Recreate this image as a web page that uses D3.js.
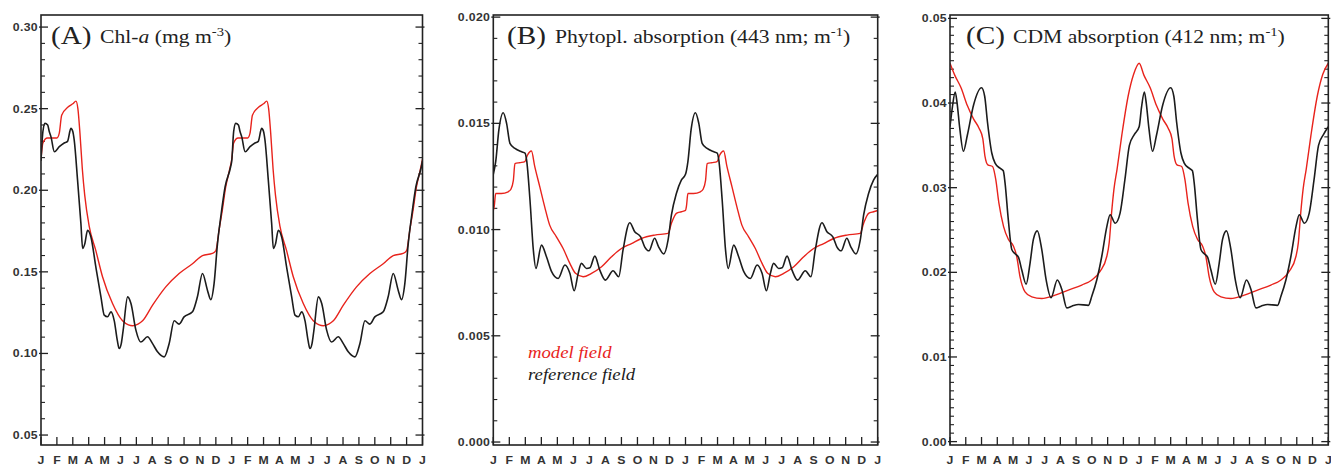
<!DOCTYPE html>
<html>
<head>
<meta charset="utf-8">
<script src="https://cdn.jsdelivr.net/npm/d3@7"></script>
<style>
  body { margin: 0; background: #fff; }
  svg { display: block; }
</style>
</head>
<body>
<svg id="chart" width="1331" height="464"></svg>
<script>
// Month initials along the two-year time axis
const monthLabels = ["J","F","M","A","M","J","J","A","S","O","N","D",
                     "J","F","M","A","M","J","J","A","S","O","N","D","J"];

// One climatological year per series: [month (0-12), value]; plotted for two years
const chlModel = [
  [0, 0.219], [0.12, 0.229], [0.4, 0.232], [1.0, 0.232], [1.15, 0.235], [1.3, 0.246],
  [1.7, 0.251], [2.0, 0.253], [2.2, 0.2546], [2.32, 0.250], [2.45, 0.235], [2.6, 0.213],
  [2.75, 0.197], [3.03, 0.178], [3.45, 0.163], [3.87, 0.147], [4.5, 0.1306], [5.13, 0.120],
  [5.5, 0.1175], [5.76, 0.117], [6.1, 0.118], [6.39, 0.120], [7.02, 0.1296], [7.85, 0.1408],
  [8.69, 0.149], [9.53, 0.155], [10.16, 0.160], [10.78, 0.1613], [11.0, 0.163], [11.2, 0.1755],
  [11.41, 0.188], [11.62, 0.202], [11.85, 0.212], [12, 0.219]
];
const chlReference = [
  [0, 0.218], [0.12, 0.236], [0.25, 0.241], [0.42, 0.240], [0.52, 0.236], [0.63, 0.2327],
  [0.84, 0.2236], [1.15, 0.2267], [1.46, 0.229], [1.67, 0.230], [1.88, 0.2379], [2.0, 0.236],
  [2.09, 0.2307], [2.3, 0.2062], [2.51, 0.1797], [2.62, 0.1643], [2.75, 0.167], [2.93, 0.1755],
  [3.14, 0.1714], [3.45, 0.153], [3.77, 0.1347], [3.98, 0.1235], [4.19, 0.1225], [4.4, 0.1255],
  [4.61, 0.120], [4.8, 0.108], [4.92, 0.103], [5.05, 0.106], [5.17, 0.1143], [5.45, 0.1347],
  [5.66, 0.1306], [5.97, 0.1143], [6.28, 0.107], [6.7, 0.1102], [7.02, 0.106], [7.33, 0.101],
  [7.75, 0.0979], [8.06, 0.106], [8.38, 0.120], [8.69, 0.118], [9.0, 0.1224], [9.53, 0.1255],
  [9.84, 0.1347], [10.16, 0.149], [10.47, 0.1388], [10.68, 0.133], [10.89, 0.143], [11.1, 0.167],
  [11.31, 0.1837], [11.58, 0.202], [11.93, 0.2144], [12, 0.218]
];

const aphModel = [
  [0, 0.0109], [0.06, 0.0111], [0.15, 0.0117], [0.5, 0.0117], [0.93, 0.01178], [1.1, 0.0119],
  [1.25, 0.0123], [1.35, 0.0131], [1.66, 0.01315], [1.97, 0.0132], [2.13, 0.0135], [2.38, 0.0137],
  [2.59, 0.01296], [2.9, 0.01202], [3.21, 0.01107], [3.52, 0.01021], [3.94, 0.00966], [4.36, 0.00911],
  [4.78, 0.00841], [5.13, 0.00794], [5.61, 0.00778], [6.13, 0.00794], [6.76, 0.00825], [7.38, 0.00872],
  [8.0, 0.00911], [8.63, 0.00934], [9.25, 0.00958], [10.08, 0.00974], [10.91, 0.00982], [11.12, 0.01029],
  [11.43, 0.01076], [11.74, 0.01084], [12, 0.0109]
];
const aphReference = [
  [0, 0.0126], [0.15, 0.0132], [0.35, 0.0147], [0.62, 0.0155], [0.83, 0.0150], [1.04, 0.01406],
  [1.35, 0.01382], [1.77, 0.01366], [1.98, 0.0136], [2.08, 0.01327], [2.29, 0.01139], [2.5, 0.00904],
  [2.66, 0.00817], [3.01, 0.00927], [3.32, 0.00872], [3.64, 0.00802], [4.05, 0.0077], [4.47, 0.00833],
  [4.78, 0.00794], [5.05, 0.00712], [5.3, 0.00794], [5.5, 0.00841], [5.82, 0.00817], [6.03, 0.0082],
  [6.34, 0.00875], [6.65, 0.00809], [7.0, 0.00762], [7.48, 0.00806], [7.83, 0.00778], [8.1, 0.00904],
  [8.52, 0.01032], [8.83, 0.0099], [9.2, 0.00966], [9.45, 0.00919], [9.72, 0.009], [10.07, 0.00959],
  [10.32, 0.00919], [10.64, 0.00885], [10.91, 0.0095], [11.12, 0.01068], [11.43, 0.0117],
  [11.74, 0.01233], [12, 0.0126]
];

const cdmModel = [
  [0, 0.0447], [0.3, 0.0433], [0.7, 0.0418], [1.1, 0.0397], [1.5, 0.0381], [1.85, 0.037],
  [2.08, 0.0358], [2.22, 0.0337], [2.4, 0.0327], [2.7, 0.0325], [2.9, 0.031], [3.1, 0.0282],
  [3.4, 0.0254], [3.7, 0.0239], [4.02, 0.0231], [4.23, 0.0219], [4.44, 0.0195], [4.76, 0.0177],
  [5.19, 0.0171], [5.82, 0.0169], [6.67, 0.0173], [7.51, 0.0179], [8.36, 0.0185], [9.0, 0.0191],
  [9.52, 0.0201], [9.95, 0.0219], [10.1, 0.0235], [10.25, 0.027], [10.4, 0.0298], [10.6, 0.0322],
  [10.9, 0.0362], [11.3, 0.0408], [11.65, 0.0434], [12, 0.0447]
];
const cdmReference = [
  [0, 0.0372], [0.15, 0.0395], [0.33, 0.0413], [0.45, 0.040], [0.62, 0.037], [0.85, 0.0343],
  [1.1, 0.0362], [1.5, 0.0398], [2.0, 0.0418], [2.2, 0.0408], [2.38, 0.0377], [2.65, 0.0341],
  [2.86, 0.0329], [3.17, 0.0323], [3.38, 0.032], [3.49, 0.0306], [3.7, 0.0262], [3.92, 0.0227],
  [4.13, 0.0222], [4.34, 0.0218], [4.55, 0.0203], [4.83, 0.0186], [5.08, 0.0211], [5.29, 0.0239],
  [5.54, 0.0249], [5.82, 0.0227], [6.1, 0.0191], [6.41, 0.017], [6.81, 0.0191], [7.09, 0.018],
  [7.41, 0.0158], [7.73, 0.016], [8.15, 0.0162], [8.78, 0.0161], [9.0, 0.0172], [9.31, 0.0191],
  [9.63, 0.0219], [9.95, 0.0254], [10.16, 0.0268], [10.48, 0.0258], [10.79, 0.027], [11.1, 0.031],
  [11.38, 0.035], [11.7, 0.0363], [12, 0.0372]
];

// Axis tick values
const chlTicks = [0.05, 0.10, 0.15, 0.20, 0.25, 0.30];
const aphTicks = [0.000, 0.005, 0.010, 0.015, 0.020];
const cdmTicks = [0.00, 0.01, 0.02, 0.03, 0.04, 0.05];

const panels = [
  { id: "A", x0: 41, x1: 422.5, yDomain: [0.0439, 0.3074], ticks: chlTicks, fmt: d3.format(".2f"),
    minor: 0.01, model: chlModel, ref: chlReference,
    letterX: 51, textX: 100,
    title: [{t: "Chl-"}, {t: "a", it: true}, {t: " (mg m"}, {t: "-3", sup: true}, {t: ")"}] },
  { id: "B", x0: 493.3, x1: 877.7, yDomain: [-0.00014, 0.0201], ticks: aphTicks, fmt: d3.format(".3f"),
    minor: 0.001, model: aphModel, ref: aphReference,
    letterX: 507, textX: 555,
    title: [{t: "Phytopl. absorption (443 nm; m"}, {t: "-1", sup: true}, {t: ")"}] },
  { id: "C", x0: 950, x1: 1328.3, yDomain: [-0.0004, 0.0504], ticks: cdmTicks, fmt: d3.format(".2f"),
    minor: 0.001, model: cdmModel, ref: cdmReference,
    letterX: 966, textX: 1013,
    title: [{t: "CDM absorption (412 nm; m"}, {t: "-1", sup: true}, {t: ")"}] }
];

const plotTop = 15, plotBottom = 445;
const stretch = 1.17;
const ink = "#222";
const labelInk = "#333";
const redInk = "#e8231c";

const svg = d3.select("#chart");

// Repeat one year of data to cover two years
function twoYears(arr) {
  return arr.concat(arr.filter(d => d[0] > 0).map(d => [d[0] + 12, d[1]]));
}

panels.forEach(p => {
  const x = d3.scaleLinear().domain([0, 24]).range([p.x0, p.x1]);
  const y = d3.scaleLinear().domain(p.yDomain).range([plotBottom, plotTop]);
  const g = svg.append("g");

  const clipId = "clip" + p.id;
  svg.append("clipPath").attr("id", clipId)
    .append("rect").attr("x", p.x0).attr("y", plotTop)
    .attr("width", p.x1 - p.x0).attr("height", plotBottom - plotTop);

  // Minor and major ticks on the left and right edges, pointing inward
  const [lo, hi] = p.yDomain;
  const minors = d3.range(Math.ceil(lo / p.minor - 1e-6) * p.minor, hi, p.minor)
    .map(v => +v.toFixed(6))
    .filter(v => v >= lo && v <= hi && !p.ticks.some(t => Math.abs(t - v) < p.minor / 10));
  [[p.x0, 1], [p.x1, -1]].forEach(([ax, dir]) => {
    g.selectAll(null).data(minors).join("line")
      .attr("x1", ax).attr("x2", ax + dir * 4)
      .attr("y1", d => y(d)).attr("y2", d => y(d))
      .attr("stroke", ink).attr("stroke-width", 1.1);
    g.selectAll(null).data(p.ticks).join("line")
      .attr("x1", ax - dir * 2).attr("x2", ax + dir * 7)
      .attr("y1", d => y(d)).attr("y2", d => y(d))
      .attr("stroke", ink).attr("stroke-width", 1.3);
  });

  // Month ticks along the bottom, pointing up
  g.selectAll(null).data(monthLabels).join("line")
    .attr("x1", (d, k) => x(k)).attr("x2", (d, k) => x(k))
    .attr("y1", plotBottom).attr("y2", plotBottom - 8)
    .attr("stroke", ink).attr("stroke-width", 1.3);

  // Y tick labels
  g.selectAll(null).data(p.ticks).join("text")
    .attr("transform", d => `translate(${p.x0 - 3},${y(d) + 4}) scale(${stretch},1)`)
    .attr("text-anchor", "end")
    .attr("font-family", "Liberation Sans, Arial, sans-serif")
    .attr("font-size", 10.5).attr("font-weight", "bold").attr("fill", labelInk)
    .attr("letter-spacing", 0.3)
    .text(d => p.fmt(d));

  // Month labels
  g.selectAll(null).data(monthLabels).join("text")
    .attr("transform", (d, k) => `translate(${x(k)},463.5) scale(${stretch},1)`)
    .attr("text-anchor", "middle")
    .attr("font-family", "Liberation Sans, Arial, sans-serif")
    .attr("font-size", 10.5).attr("font-weight", "bold").attr("fill", labelInk)
    .text(d => d);

  // Series lines
  const line = d3.line().x(d => x(d[0])).y(d => y(d[1])).curve(d3.curveMonotoneX);
  const lines = g.append("g").attr("clip-path", `url(#${clipId})`);
  lines.append("path").datum(twoYears(p.model))
    .attr("d", line).attr("fill", "none").attr("stroke", redInk).attr("stroke-width", 1.4);
  lines.append("path").datum(twoYears(p.ref))
    .attr("d", line).attr("fill", "none").attr("stroke", "#1c1c1c").attr("stroke-width", 1.6);

  // Frame
  g.append("rect").attr("x", p.x0).attr("y", plotTop)
    .attr("width", p.x1 - p.x0).attr("height", plotBottom - plotTop)
    .attr("fill", "none").attr("stroke", ink).attr("stroke-width", 1.6);

  // Panel title
  g.append("text")
    .attr("transform", `translate(${p.letterX},43.5) scale(${stretch},1)`)
    .attr("font-family", "Liberation Serif, Times New Roman, serif")
    .attr("font-size", 25).attr("fill", ink)
    .text(`(${p.id})`);
  const tt = g.append("text")
    .attr("transform", `translate(${p.textX},43) scale(${stretch},1)`)
    .attr("font-family", "Liberation Serif, Times New Roman, serif")
    .attr("font-size", 18.5).attr("fill", ink);
  let lastSup = false;
  p.title.forEach(s => {
    const ts = tt.append("tspan").text(s.t);
    if (s.it) ts.attr("font-style", "italic");
    if (s.sup) ts.attr("font-size", 12.5).attr("dy", -7);
    else if (lastSup) ts.attr("dy", 7);
    lastSup = !!s.sup;
  });

  // Legend in the middle panel
  if (p.id === "B") {
    const legend = [{ t: "model field", c: redInk }, { t: "reference field", c: "#1c1c1c" }];
    g.selectAll(null).data(legend).join("text")
      .attr("transform", (d, k) => `translate(528,${358 + k * 22}) scale(${stretch},1)`)
      .attr("font-family", "Liberation Serif, Times New Roman, serif")
      .attr("font-style", "italic")
      .attr("font-size", 16).attr("fill", d => d.c)
      .text(d => d.t);
  }
});
</script>
</body>
</html>
